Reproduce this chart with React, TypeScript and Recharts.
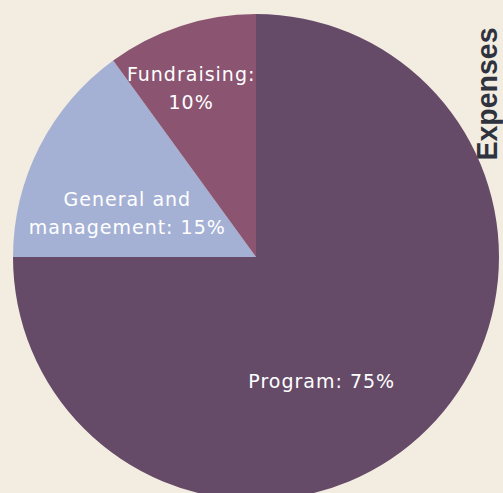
import { PieChart, Pie, Cell, Customized } from "recharts"

const categories = ["Program", "General and management", "Fundraising"]
const shares = [75, 15, 10]
const labelLines = [["Program: 75%"], ["General and", "management: 15%"], ["Fundraising:", "10%"]]

const colors = ["#654b68", "#a5b1d4", "#8b5572"]
// label nudges relative to each slice's middle angle
const labelShift = [
  { da: -17, rf: 0.576 },
  { da: 8, rf: 0.56 },
  { da: 3, rf: 0.745 },
]

const data = categories.map((name, i) => ({ name, value: shares[i] }))

const RAD = Math.PI / 180

function SliceLabel(props: any) {
  const { cx, cy, midAngle, outerRadius, index } = props
  const s = labelShift[index]
  const a = (midAngle + s.da) * RAD
  const r = outerRadius * s.rf
  const x = cx + r * Math.cos(a)
  const y = cy - r * Math.sin(a)
  const lines = labelLines[index]
  const lh = 28
  const y0 = y - ((lines.length - 1) * lh) / 2
  return (
    <text
      x={x}
      y={y0}
      fill="#ffffff"
      textAnchor="middle"
      dominantBaseline="central"
      fontFamily="'DejaVu Sans', sans-serif"
      fontSize={19}
      letterSpacing={1}
    >
      {lines.map((l, k) => (
        <tspan key={k} x={x} dy={k === 0 ? 0 : lh}>
          {l}
        </tspan>
      ))}
    </text>
  )
}

function Title() {
  return (
    <text
      transform="translate(497,94) rotate(-90)"
      textAnchor="middle"
      fill="#2e333d"
      fontFamily="'Liberation Sans Narrow', 'Liberation Sans', sans-serif"
      fontWeight="bold"
      fontSize={30}
      textLength={133}
      lengthAdjust="spacingAndGlyphs"
    >
      Expenses
    </text>
  )
}

export default function App() {
  return (
    <div style={{ position: "fixed", left: 0, top: 0, width: 503, height: 493, background: "#f3ede1", overflow: "hidden" }}>
      <PieChart width={503} height={493} margin={{ top: 0, right: 0, bottom: 0, left: 0 }}>
        <Pie
          data={data}
          dataKey="value"
          nameKey="name"
          cx={256}
          cy={257}
          outerRadius={243}
          startAngle={90}
          endAngle={-270}
          stroke="none"
          labelLine={false}
          label={SliceLabel}
          isAnimationActive={false}
        >
          {data.map((d, i) => (
            <Cell key={d.name} fill={colors[i]} />
          ))}
        </Pie>
        <Customized component={Title} />
      </PieChart>
    </div>
  )
}
